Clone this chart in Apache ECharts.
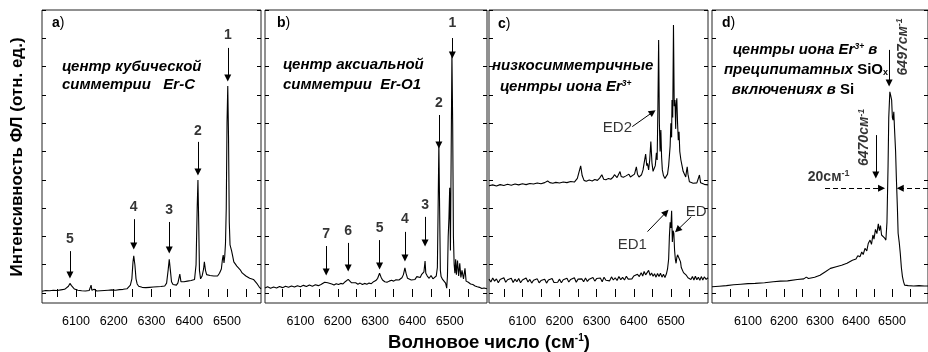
<!DOCTYPE html>
<html><head><meta charset="utf-8">
<script src="https://cdn.jsdelivr.net/npm/echarts@6/dist/echarts.min.js"></script>
<style>html,body{margin:0;padding:0;background:#fff}#c{width:928px;height:352px}</style>
</head><body><div id="c"></div><script>
// ---------- DATA ----------
const xTickValues = [6050,6100,6150,6200,6250,6300,6350,6400,6450,6500,6550];
const xTickLabels = [6100,6200,6300,6400,6500];
const yTickValues = [0,10,20,30,40,50,60,70,80,90,100];

// panel a) cubic centre Er-C  [wavenumber, intensity]
const specA = [[6010,0.6],[6015,0.2],[6020,0.9],[6025,0.4],[6030,0.8],[6035,0.3],[6040,1.0],[6045,0.5],[6050,0.9],[6055,0.4],[6060,1.1],[6065,0.6],[6070,1.3],[6075,1.5],[6080,2.4],[6084,3.4],[6088,2.6],[6092,2.0],[6096,1.4],[6100,1.8],[6105,1.0],[6110,1.5],[6115,0.8],[6120,1.3],[6125,0.7],[6130,1.2],[6135,0.9],[6140,2.8],[6142,1.0],[6148,1.3],[6155,0.7],[6160,1.2],[6165,0.8],[6170,1.3],[6175,0.9],[6180,1.4],[6185,1.0],[6190,1.5],[6195,1.1],[6200,1.6],[6205,1.0],[6210,1.5],[6215,1.2],[6220,1.7],[6225,1.3],[6230,1.8],[6235,1.5],[6240,2.2],[6244,2.8],[6248,5],[6251,11],[6253,13.1],[6256,10],[6259,5],[6262,3.2],[6266,2.4],[6270,3.0],[6275,2.0],[6280,2.6],[6285,1.9],[6290,2.5],[6295,2.0],[6300,2.6],[6305,2.1],[6310,2.7],[6315,2.2],[6320,2.8],[6325,2.3],[6330,2.7],[6335,2.5],[6340,3.5],[6344,8],[6347,11.9],[6350,8],[6353,4],[6357,3.0],[6362,3.5],[6366,2.8],[6370,3.6],[6375,6.7],[6378,4],[6382,3.4],[6386,4.0],[6390,3.5],[6395,4.2],[6400,3.8],[6405,4.4],[6410,4.0],[6414,4.8],[6418,10],[6421,30],[6423,39.9],[6425,25],[6427,8],[6430,5.0],[6434,6.0],[6438,8.5],[6440,11],[6443,8],[6446,6.5],[6450,7.0],[6455,6.2],[6460,6.8],[6465,6.0],[6470,6.5],[6475,6.0],[6480,7.0],[6485,8.5],[6488,12],[6490,13.4],[6492,10.6],[6494,13],[6496,17.7],[6498,30],[6500,60],[6502,73.1],[6504,55],[6506,25],[6508,17],[6510,17.5],[6512,15],[6515,13],[6518,11],[6522,10.6],[6526,9.5],[6530,8.8],[6535,8.2],[6540,7.1],[6545,7.5],[6550,6.0],[6555,6.3],[6560,5.2],[6565,4.6],[6570,4.8],[6575,4.0],[6580,3.2],[6585,2.2],[6590,1.5]];

// panel b) axial centre Er-O1
const specB = [[6005,1.8],[6012,2.2],[6020,1.7],[6028,2.1],[6036,1.8],[6044,2.3],[6052,1.9],[6060,2.4],[6068,2.0],[6076,2.5],[6084,2.1],[6092,2.6],[6100,2.2],[6108,2.7],[6116,2.3],[6124,2.8],[6132,2.4],[6140,2.9],[6148,2.6],[6155,3.0],[6160,3.3],[6165,3.8],[6169,4.0],[6173,3.6],[6178,3.0],[6184,3.2],[6190,2.8],[6196,3.3],[6202,3.0],[6208,3.4],[6214,3.2],[6220,4.0],[6225,4.6],[6228,4.8],[6232,4.3],[6237,3.6],[6242,3.2],[6248,3.6],[6254,3.1],[6260,3.5],[6266,3.0],[6272,3.4],[6278,3.1],[6284,3.5],[6290,3.3],[6296,4.0],[6302,4.4],[6307,5.2],[6312,7.0],[6316,5.6],[6320,4.6],[6326,4.0],[6332,3.8],[6338,4.2],[6344,4.5],[6350,4.2],[6356,4.7],[6360,5.2],[6364,4.6],[6368,4.8],[6372,5.4],[6376,6.5],[6380,8.9],[6383,7.0],[6387,5.2],[6392,5.0],[6397,4.6],[6402,5.3],[6407,4.8],[6412,5.8],[6417,6.4],[6421,5.5],[6425,6.6],[6428,6.0],[6431,7.5],[6434,11.3],[6436,7.0],[6440,6.0],[6445,5.2],[6450,6.2],[6455,5.0],[6460,5.5],[6464,6.0],[6467,9],[6469,30],[6471,52.9],[6473,30],[6475,8],[6477,5.8],[6481,4.8],[6485,5.5],[6489,3.5],[6492,1.7],[6494,6],[6496,20],[6498,26.5],[6500,37.2],[6502,15],[6504,50],[6506,84.7],[6508,60],[6510,20],[6512,10],[6514,7],[6516,11.9],[6518,6.5],[6521,11.5],[6524,6],[6527,10.5],[6530,5.5],[6533,8],[6537,5.0],[6541,8.7],[6544,4.2],[6550,3.8],[6556,3.2],[6562,3.0],[6568,2.5],[6574,2.2],[6580,2.0],[6586,1.6],[6592,1.8],[6600,1.5]];

// panel c) low-symmetry centres: upper (ED2) and lower (ED1/ED) spectra
const specCUpper = [[6010,37.9],[6020,38.2],[6030,37.8],[6040,38.3],[6050,38.0],[6060,38.4],[6070,38.1],[6080,38.5],[6090,38.2],[6100,38.6],[6110,38.3],[6120,38.7],[6130,38.5],[6140,38.9],[6150,38.6],[6160,39.0],[6168,39.6],[6174,39.0],[6182,38.8],[6190,39.1],[6200,38.9],[6210,39.2],[6220,39.0],[6230,39.4],[6240,39.2],[6248,40.5],[6253,43],[6257,44.9],[6261,41.5],[6266,39.8],[6272,39.5],[6280,39.9],[6288,39.6],[6295,40.1],[6302,39.8],[6308,40.6],[6314,41.8],[6319,40.2],[6325,40.0],[6332,40.5],[6338,40.2],[6344,40.9],[6348,41.8],[6351,41.3],[6355,40.8],[6359,41.5],[6363,42.9],[6366,41.2],[6372,40.9],[6378,41.3],[6383,42.0],[6387,42.0],[6391,41.0],[6396,41.2],[6402,42.0],[6407,44.6],[6410,42.0],[6414,41.0],[6417,40.5],[6421,41.8],[6425,43.5],[6428,46],[6432,49.1],[6435,45],[6437,45.8],[6440,43.5],[6443,47],[6446,53.5],[6449,46],[6452,43],[6455,42.4],[6458,45],[6461,49.5],[6463,47],[6465,65],[6467,89.4],[6469,60],[6471,50],[6473,57.6],[6475,48],[6477,43.5],[6480,41.5],[6484,40.5],[6488,39.9],[6491,42],[6494,45],[6496,44.6],[6498,52],[6500,60],[6502,55],[6503,68.2],[6505,62],[6507,94.7],[6509,66],[6511,68.2],[6513,58],[6514,66],[6516,68.8],[6518,60],[6520,54],[6522,57],[6524,50],[6527,47],[6530,45],[6533,43],[6537,42.4],[6540,41],[6542,43],[6544,44.6],[6546,42],[6550,39.3],[6555,39.0],[6560,38.8],[6565,39.3],[6570,38.9],[6574,39.5],[6577,41.7],[6580,39],[6585,38.5],[6590,38.4],[6595,38.2],[6600,38.2]];
const specCLower = [[6010,4.9],[6015,3.9],[6020,5.3],[6025,4.2],[6030,5.0],[6035,3.6],[6040,4.8],[6045,4.1],[6050,5.4],[6055,3.8],[6060,4.7],[6065,4.3],[6070,5.2],[6075,3.7],[6080,4.9],[6085,4.0],[6090,5.1],[6095,3.6],[6100,4.6],[6105,4.2],[6110,5.3],[6115,3.9],[6120,4.8],[6125,3.5],[6130,4.5],[6135,4.1],[6140,5.0],[6145,3.6],[6150,4.4],[6155,3.9],[6160,4.9],[6165,3.5],[6170,4.6],[6175,4.0],[6180,5.1],[6185,3.7],[6190,4.4],[6195,3.8],[6200,4.9],[6205,3.6],[6210,4.7],[6215,4.0],[6220,5.2],[6225,3.9],[6230,4.8],[6235,4.2],[6240,5.4],[6245,3.8],[6250,4.9],[6255,4.3],[6260,5.0],[6265,4.0],[6270,5.3],[6275,4.1],[6280,4.9],[6285,4.3],[6290,5.5],[6295,4.2],[6300,5.1],[6305,4.4],[6310,5.3],[6315,4.0],[6320,5.6],[6325,4.5],[6330,5.2],[6335,4.3],[6340,5.7],[6345,4.6],[6350,5.4],[6355,4.4],[6360,5.8],[6365,4.7],[6370,5.5],[6375,4.6],[6380,5.9],[6385,4.9],[6390,5.6],[6395,5.0],[6400,6.0],[6405,5.3],[6410,6.6],[6415,5.8],[6420,7.2],[6424,6.0],[6428,7.6],[6432,6.4],[6436,7.0],[6440,8.0],[6444,6.2],[6448,7.1],[6452,5.9],[6456,6.8],[6460,5.6],[6464,6.9],[6468,5.8],[6472,7.0],[6476,5.6],[6480,6.6],[6484,5.5],[6488,6.8],[6491,8.5],[6494,12],[6496,20],[6498,25],[6500,23],[6502,29.1],[6504,18],[6506,22],[6508,21.1],[6510,15],[6512,12],[6514,10.5],[6516,12.5],[6518,13.5],[6520,12.8],[6523,14],[6526,11],[6528,9],[6531,8.4],[6534,7.2],[6538,7.8],[6542,6.2],[6546,5.4],[6550,6.1],[6554,4.8],[6558,5.8],[6562,4.6],[6566,5.9],[6570,4.7],[6574,5.6],[6578,4.5],[6582,5.8],[6586,4.6],[6590,5.7],[6595,4.8],[6600,5.4]];

// panel d) Er3+ centres in SiOx precipitates
const specD = [[6000,2.2],[6020,2.4],[6040,2.6],[6060,2.9],[6080,3.1],[6100,3.3],[6120,3.4],[6146,3.6],[6170,4.0],[6190,4.2],[6210,4.3],[6237,4.8],[6255,5.0],[6262,5.6],[6265,5.8],[6268,5.1],[6285,5.6],[6300,6.3],[6315,7.5],[6329,8.7],[6345,9.3],[6360,9.8],[6375,10.5],[6390,11.6],[6400,12.0],[6405,13.2],[6411,12.8],[6416,14.5],[6420,13.6],[6425,15.8],[6430,14.9],[6434,17.5],[6439,18.7],[6443,17.2],[6447,20.5],[6450,19.0],[6454,22.5],[6458,21.0],[6462,24.4],[6465,22.0],[6468,23.8],[6471,20.5],[6475,21.1],[6479,19.5],[6483,18.7],[6486,25],[6489,44.6],[6491,62],[6494,71.1],[6496,70],[6499,68.2],[6501,62],[6503,61.1],[6505,64],[6507,58],[6510,50],[6512,41.1],[6515,30],[6517,21.1],[6520,18],[6523,14],[6526,9],[6529,5.8],[6532,4],[6535,2.8],[6545,2.6],[6560,2.5],[6575,2.6],[6590,2.5],[6600,2.5]];

// annotations: arrows [x1,y1,x2,y2], labels [x,y,text]
const arrowsA = [[6502,86.6,6502,76],[6423,53.4,6423,42.8],[6347,25.1,6347,15.2],[6253,26.1,6253,16.6],[6084,14.8,6084,6.4]];
const labelsA = [[6502,91.2,'1'],[6423,57.2,'2'],[6347,29.3,'3'],[6253,30.4,'4'],[6084,19.1,'5']];
const arrowsB = [[6507,90.1,6507,84.1],[6471,62.9,6471,52.3],[6434,26.9,6434,17.7],[6380,21.6,6380,12.4],[6312,18.7,6312,9.5],[6228,17.7,6228,8.8],[6169,16.6,6169,7.4]];
const labelsB = [[6507,95.4,'1'],[6471,67.1,'2'],[6434,31.1,'3'],[6380,26.1,'4'],[6312,23,'5'],[6228,21.9,'6'],[6169,20.8,'7']];
const arrowsC = [[6396,58.8,6451,63.9],[6437,21.7,6487,28.5],[6555,27,6518,22.3]];
const labelsC = [[6356,58.3,'ED2'],[6396,17,'ED1'],[6568,28.7,'ED']];
const arrowsD = [[6492,85.9,6492,74.2],[6455,55.8,6455,41.7]];
const dashedArrowsD = [[6314,37,6471,37],[6600,37,6523,37]];
const labelsDRot = [[6530,87,'6497см{s|-1}'],[6424,55,'6470см{s|-1}']];
const labelsD = [[6324,41,'20см{s|-1}']];

// ---------- CHART ----------
const FONT = '"Liberation Sans", Arial, sans-serif';
const panels = [
  {left:42, width:219, min:6010, max:6590},
  {left:265, width:222, min:6005, max:6600},
  {left:489, width:219, min:6010, max:6600},
  {left:712, width:219, min:6000, max:6600}
];
const Y_MIN = -3.53, Y_MAX = 100;

const grid = panels.map(p => ({left:p.left, top:10, width:p.width, height:293, show:true,
  borderColor:'#222', borderWidth:1, backgroundColor:'transparent', containLabel:false}));
const xAxis = [], yAxis = [];
panels.forEach((p, i) => {
  xAxis.push({gridIndex:i, type:'value', min:p.min, max:p.max, position:'bottom',
    axisLine:{show:false}, splitLine:{show:false},
    axisTick:{show:true, inside:true, length:4, customValues:xTickValues, lineStyle:{color:'#000'}},
    axisLabel:{show:true, customValues:xTickLabels, formatter:v => String(v), fontSize:12.5, color:'#000', margin:12, fontFamily:FONT}});
  xAxis.push({gridIndex:i, type:'value', min:p.min, max:p.max, position:'top',
    axisLine:{show:false}, splitLine:{show:false}, axisLabel:{show:false},
    axisTick:{show:true, inside:true, length:4, customValues:xTickValues, lineStyle:{color:'#000'}}});
  yAxis.push({gridIndex:i, type:'value', min:Y_MIN, max:Y_MAX, position:'left',
    axisLine:{show:false}, splitLine:{show:false}, axisLabel:{show:false},
    axisTick:{show:true, inside:true, length:4, customValues:yTickValues, lineStyle:{color:'#000'}}});
  yAxis.push({gridIndex:i, type:'value', min:Y_MIN, max:Y_MAX, position:'right',
    axisLine:{show:false}, splitLine:{show:false}, axisLabel:{show:false},
    axisTick:{show:true, inside:true, length:4, customValues:yTickValues, lineStyle:{color:'#000'}}});
});

function arrowLines(arr, dashed) {
  const t = dashed ? [5,3] : 'solid';
  return arr.map(a => [{coord:[a[0],a[1]], lineStyle:{type:t}},{coord:[a[2],a[3]], lineStyle:{type:t}}]);
}
function lineSeries(i, data, arrows, dashedArrows) {
  let mlData = arrows ? arrowLines(arrows, false) : [];
  if (dashedArrows) mlData = mlData.concat(arrowLines(dashedArrows, true));
  return {type:'line', xAxisIndex:2*i, yAxisIndex:2*i, data:data, showSymbol:false, symbol:'none',
    lineStyle:{color:'#000', width:1.1}, silent:true, animation:false,
    markLine: mlData.length ? {silent:true, symbol:['none','triangle'], symbolSize:7, animation:false,
      lineStyle:{color:'#000', width:1, type:'solid'}, label:{show:false}, data:mlData} : undefined};
}
function labelSeries(i, labels, opts) {
  return {type:'scatter', xAxisIndex:2*i, yAxisIndex:2*i, silent:true, animation:false,
    symbolSize:0, itemStyle:{color:'rgba(0,0,0,0)'},
    data: labels.map(l => ({value:[l[0], l[1]], name:l[2]})),
    label:Object.assign({show:true, position:'inside', formatter:'{b}', color:'#000',
      fontFamily:FONT, fontSize:14, fontWeight:'bold',
      rich:{s:{fontSize:9, fontWeight:'bold', fontFamily:FONT, color:'#000', verticalAlign:'top', padding:[0,0,6,0]}}}, opts || {})};
}

const series = [
  lineSeries(0, specA, arrowsA),
  labelSeries(0, labelsA),
  lineSeries(1, specB, arrowsB),
  labelSeries(1, labelsB),
  lineSeries(2, specCUpper, arrowsC),
  lineSeries(2, specCLower),
  labelSeries(2, labelsC, {fontWeight:'normal', fontSize:15}),
  lineSeries(3, specD, arrowsD, dashedArrowsD),
  labelSeries(3, labelsDRot, {rotate:90, fontStyle:'italic'}),
  labelSeries(3, labelsD)
];

const it = {fontSize:15, fontWeight:'bold', fontStyle:'italic', fontFamily:FONT, fill:'#000'};
const itSup = {fontSize:8.5, fontWeight:'bold', fontStyle:'italic', fontFamily:FONT, fill:'#000', verticalAlign:'top', padding:[0,0,7,0]};
const up = {fontSize:15, fontWeight:'bold', fontFamily:FONT, fill:'#000'};
const sub = {fontSize:9, fontWeight:'bold', fontFamily:FONT, fill:'#000', verticalAlign:'bottom', padding:[6,0,0,0]};
function txt(x, y, text, align, extra) {
  return Object.assign({type:'text', x:x, y:y, silent:true,
    style:{text:text, align:align||'left', verticalAlign:'middle', rich:{i:it, s:itSup, u:up, b:sub,
      L:{fontSize:14, fontWeight:'bold', fontFamily:FONT, fill:'#000'},
      P:{fontSize:14, fontWeight:'normal', fontFamily:FONT, fill:'#000'},
      T:{fontSize:17, fontWeight:'bold', fontFamily:FONT, fill:'#000'},
      X:{fontSize:18.5, fontWeight:'bold', fontFamily:FONT, fill:'#000'},
      TS:{fontSize:10, fontWeight:'bold', fontFamily:FONT, fill:'#000', verticalAlign:'top', padding:[0,0,8,0]}}}}, extra||{});
}
const graphic = [
  txt(52, 23, '{L|a}{P|)}'),
  txt(277, 23, '{L|b}{P|)}'),
  txt(498, 24, '{L|c}{P|)}'),
  txt(722, 23, '{L|d}{P|)}'),
  txt(62, 67, '{i|центр кубической}'),
  txt(62, 85, '{i|симметрии   Er-C}'),
  txt(283, 65, '{i|центр аксиальной}'),
  txt(283, 85, '{i|симметрии  Er-O1}'),
  txt(492, 66, '{i|низкосимметричные}'),
  txt(500, 87, '{i|центры иона Er}{s|3+}'),
  txt(805, 50, '{i|центры иона Er}{s|3+}{i| в}', 'center'),
  txt(806, 70, '{i|преципитатных }{u|SiO}{b|x}', 'center'),
  txt(793, 90, '{i|включениях в }{u|Si}', 'center'),
  txt(17, 157, '{T|Интенсивность ФЛ (отн. ед.)}', 'center', {rotation:Math.PI/2}),
  txt(489, 343, '{X|Волновое число (см}{TS|-1}{X|)}', 'center')
];

const chart = echarts.init(document.getElementById('c'), null, {renderer:'canvas'});
chart.setOption({animation:false, backgroundColor:'#fff', grid, xAxis, yAxis, series, graphic});
</script></body></html>
